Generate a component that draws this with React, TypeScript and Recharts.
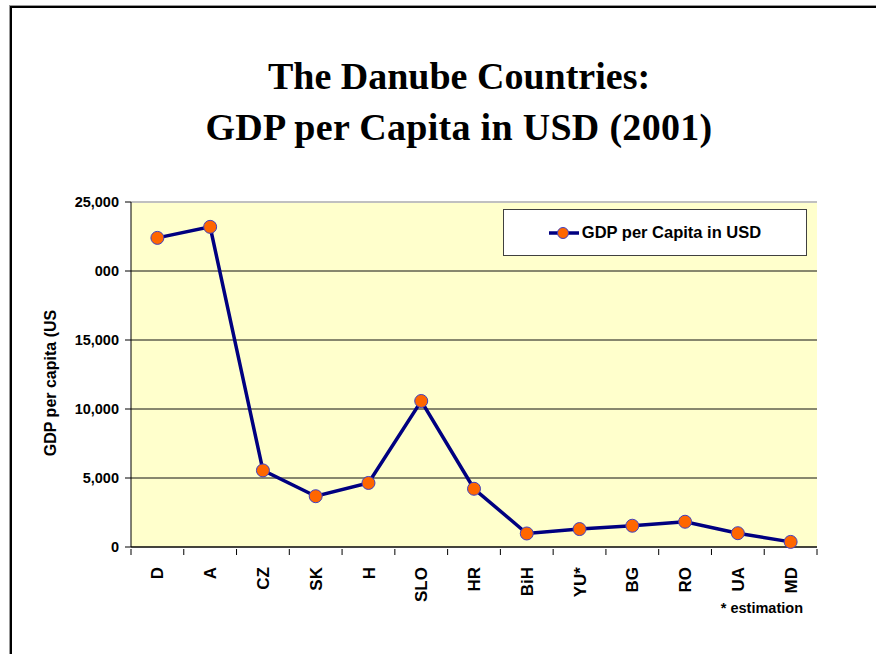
import { LineChart, Line, XAxis, YAxis, CartesianGrid, ReferenceLine, Legend } from 'recharts'

const countries = ['D', 'A', 'CZ', 'SK', 'H', 'SLO', 'HR', 'BiH', 'YU*', 'BG', 'RO', 'UA', 'MD']
const gdpPerCapita = [22400, 23200, 5550, 3680, 4640, 10580, 4220, 980, 1300, 1540, 1830, 1000, 370]
const yTicks = [0, 5000, 10000, 15000, 20000, 25000]
// the 20,000 label is cut off in the original, only "000" shows
const yTickLabels = ['0', '5,000', '10,000', '15,000', '000', '25,000']

const SERIES_NAME = 'GDP per Capita in USD'

const data = countries.map((name, i) => ({ name, gdp: gdpPerCapita[i] }))

const W = 876
const H = 654
const PLOT_W = 686
const BAND = PLOT_W / countries.length

const sans = "'Liberation Sans', Arial, sans-serif"
const serif = "'Liberation Serif', 'Times New Roman', serif"

function CountryTick(props: any) {
    const { x, y, payload, index } = props
    const ty = y + 12
    return (
        <g>
            <line x1={x - BAND / 2} y1={y - 6} x2={x - BAND / 2} y2={y} stroke="#000" />
            {index === countries.length - 1 && (
                <line x1={x + BAND / 2} y1={y - 6} x2={x + BAND / 2} y2={y} stroke="#000" />
            )}
            <text
                x={x}
                y={ty}
                dy="0.36em"
                transform={`rotate(-90, ${x}, ${ty})`}
                textAnchor="end"
                fontFamily={sans}
                fontWeight="bold"
                fontSize={17}
                fill="#000"
            >
                {payload.value}
            </text>
        </g>
    )
}

function LegendBox() {
    return (
        <div style={{
            width: 302, height: 45, background: '#fff', border: '1px solid #404040',
            display: 'flex', alignItems: 'center', justifyContent: 'center', boxSizing: 'content-box'
        }}>
            <svg width={30} height={12} style={{ marginRight: 3 }}>
                <line x1={0} y1={6} x2={30} y2={6} stroke="#000080" strokeWidth={3.5} />
                <circle cx={14} cy={6} r={5.5} fill="#FF6600" stroke="#4040c0" strokeWidth={1} />
            </svg>
            <span style={{ fontFamily: sans, fontWeight: 'bold', fontSize: 16.5, color: '#000' }}>{SERIES_NAME}</span>
        </div>
    )
}

export default function App() {
    return (
        <div style={{ position: 'absolute', left: 0, top: 0, width: W, height: H, overflow: 'hidden', background: '#fff' }}>
            {/* slide frame */}
            <div style={{ position: 'absolute', left: 9, top: 5, width: 900, height: 700, borderLeft: '1px solid #999', borderTop: '1px solid #999' }}>
                <div style={{ position: 'absolute', left: 0, top: 0, right: 0, bottom: 0, borderLeft: '2px solid #000', borderTop: '2px solid #000' }} />
            </div>

            <div style={{
                position: 'absolute', left: 0, top: 51, width: 918, textAlign: 'center',
                fontFamily: serif, fontWeight: 'bold', fontSize: 38, lineHeight: '51px', color: '#000'
            }}>
                <div>The Danube Countries:</div>
                <div style={{ letterSpacing: 0.3 }}>GDP per Capita in USD (2001)</div>
            </div>

            <div style={{ position: 'absolute', left: 0, top: 0 }}>
                <LineChart width={W} height={H} data={data} margin={{ top: 202, right: 59, left: 71, bottom: 47 }}>
                    <CartesianGrid horizontal vertical={false} stroke="#111" fill="#FFFFCC" fillOpacity={1} />
                    <ReferenceLine y={25000} stroke="#c0c0c0" strokeWidth={2} />
                    <XAxis
                        dataKey="name"
                        scale="band"
                        height={60}
                        interval={0}
                        axisLine={{ stroke: '#000' }}
                        tickLine={false}
                        tick={<CountryTick />}
                    />
                    <YAxis
                        width={60}
                        domain={[0, 25000]}
                        ticks={yTicks}
                        interval={0}
                        axisLine={{ stroke: '#000' }}
                        tickLine={{ stroke: '#000' }}
                        tickSize={6}
                        tickMargin={6}
                        tickFormatter={(v: number) => yTickLabels[yTicks.indexOf(v)]}
                        tick={{ fontFamily: sans, fontWeight: 'bold', fontSize: 14.5, fill: '#000' }}
                    />
                    <Legend
                        layout="vertical"
                        align="center"
                        verticalAlign="middle"
                        wrapperStyle={{ left: 503, top: 209, width: 304 }}
                        content={() => <LegendBox />}
                    />
                    <Line
                        type="linear"
                        dataKey="gdp"
                        name={SERIES_NAME}
                        stroke="#000080"
                        strokeWidth={3.5}
                        dot={{ r: 6.5, fill: '#FF6600', stroke: '#4040c0', strokeWidth: 1 }}
                        activeDot={false}
                        isAnimationActive={false}
                    />
                </LineChart>
            </div>

            <div style={{
                position: 'absolute', left: 51, top: 383, transform: 'translate(-50%, -50%) rotate(-90deg)',
                whiteSpace: 'nowrap', fontFamily: sans, fontWeight: 'bold', fontSize: 16, color: '#000'
            }}>
                GDP per capita (US
            </div>

            <div style={{
                position: 'absolute', right: 73, top: 600, lineHeight: '16px',
                fontFamily: sans, fontWeight: 'bold', fontSize: 14.5, color: '#000'
            }}>
                * estimation
            </div>
        </div>
    )
}
